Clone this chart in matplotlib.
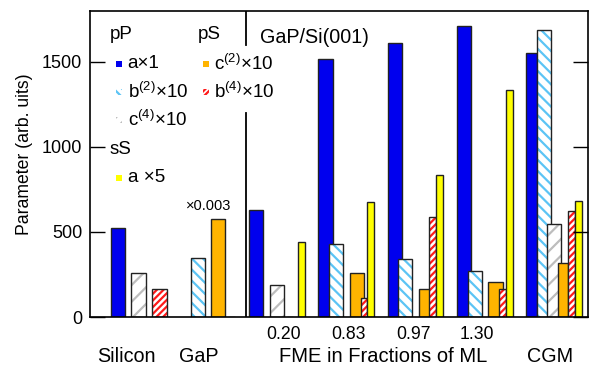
import numpy as np
import matplotlib
matplotlib.use("Agg")
import matplotlib.pyplot as plt
from matplotlib.patches import Rectangle

plt.rcParams['font.family'] = ['Liberation Sans', 'DejaVu Sans']
plt.rcParams['mathtext.default'] = 'regular'
plt.rcParams['hatch.linewidth'] = 1.6

# data (arb. units), one value per group, nan = no bar
groups = ['Silicon', 'GaP', '0.20', '0.83', '0.97', '1.30', 'CGM']
fme_labels = ['0.20', '0.83', '0.97', '1.30']
a_pP = [522, np.nan, 629, 1518, 1612, 1708, 1551]
b2_pP = [np.nan, 349, np.nan, 428, 339, 269, 1684]
c4_pP = [259, np.nan, 188, np.nan, np.nan, np.nan, 549]
c2_pS = [np.nan, 576, np.nan, 259, 167, 208, 319]
b4_pS = [163, 0, 0, 110, 588, 163, 622]
a_sS = [np.nan, np.nan, 439, 675, 835, 1333, 680]

# layout: bar centres / widths in axis units (pixels from left axis)
x_a = [28, 0, 166, 235.5, 304.7, 374.2, 441.3]
w_a = [14.3, 14.3, 14.3, 14.3, 14.3, 14.3, 10.7]
x_b2 = [0, 107.7, 0, 246.3, 315.3, 384.7, 453.8]
w_b2 = [14.3] * 7
x_c4 = [48.5, 0, 187.2, 0, 0, 0, 464.2]
w_c4 = [14.3, 14.3, 14.3, 14.3, 14.3, 14.3, 13.7]
x_c2 = [0, 128.2, 0, 267, 336.3, 405.5, 473]
w_c2 = [14.3, 14.3, 14.3, 14.3, 14.3, 14.3, 10.7]
x_b4 = [69.5, 142, 200, 274, 342.5, 412.2, 481.7]
w_b4 = [14.4, 6.7, 6.7, 6.7, 7, 7, 6.7]
x_aS = [0, 0, 211.7, 280.8, 349.7, 419.2, 488.3]
w_aS = [6.7, 6.7, 6.7, 7, 7.3, 7, 6.7]

edge = '#222222'
blue = '#0000ee'
lblue = '#5cc4f5'
gray = '#bdbdbd'
orange = '#ffb400'
red = '#ff1a1a'
yellow = '#ffff00'

fig = plt.figure(figsize=(5.89, 3.68), dpi=100)
ax = fig.add_axes([90 / 589, 51 / 368, 498 / 589, 306.3 / 368])
ax.set_xlim(0, 498)
ax.set_ylim(0, 1800)


def solid(x, w, v, color):
    for xi, wi, vi in zip(x, w, v):
        if np.isnan(vi):
            continue
        ax.bar(xi, vi, width=wi, color=color, edgecolor=edge, linewidth=1.0)


def hatched(x, w, v, color, hatch):
    for xi, wi, vi in zip(x, w, v):
        if np.isnan(vi):
            continue
        ax.bar(xi, vi, width=wi, color='white', edgecolor=color, hatch=hatch, linewidth=0)
        ax.bar(xi, vi, width=wi, color='none', edgecolor=edge, linewidth=1.0)


solid(x_a, w_a, a_pP, blue)
hatched(x_b2, w_b2, b2_pP, lblue, '\\\\\\')
hatched(x_c4, w_c4, c4_pP, gray, '//')
solid(x_c2, w_c2, c2_pS, orange)
hatched(x_b4, w_b4, b4_pS, red, '/////')
solid(x_aS, w_aS, a_sS, yellow)

# separator between reference samples and FME samples
ax.plot([155.7, 155.7], [1600, 1800], color='black', lw=1.3)
ax.plot([155.7, 155.7], [0, 1200], color='black', lw=1.3)

ax.set_yticks([0, 500, 1000, 1500])
ax.set_xticks([])
ax.tick_params(axis='y', direction='in', length=11, width=1, right=True, labelsize=13, pad=5.5)
for s in ax.spines.values():
    s.set_linewidth(1.2)
ax.set_ylabel('Parameter (arb. uits)', fontsize=12.7)
ax.yaxis.set_label_coords(-0.115, 0.532)

# x labels
for lab, xp in zip(fme_labels, [193.3, 258.3, 323.3, 387.3]):
    ax.text(xp, -100, lab, ha='center', va='center', fontsize=12.7, clip_on=False)
ax.text(36.7, -235, 'Silicon', ha='center', va='center', fontsize=14.2, clip_on=False)
ax.text(109, -235, 'GaP', ha='center', va='center', fontsize=14.2, clip_on=False)
ax.text(293.3, -235, 'FME in Fractions of ML', ha='center', va='center', fontsize=14.5, clip_on=False)
ax.text(460, -235, 'CGM', ha='center', va='center', fontsize=14.2, clip_on=False)

ax.text(170, 1641, 'GaP/Si(001)', ha='left', va='center', fontsize=14.2)
ax.text(119, 652, '×0.003', ha='center', va='center', fontsize=10.5)

# hand-made legend
ax.text(20, 1659, 'pP', ha='left', va='center', fontsize=13.5)
ax.text(107.3, 1659, 'pS', ha='left', va='center', fontsize=13.5)
ax.text(20, 982, 'sS', ha='left', va='center', fontsize=13.5)

legend_items = [
    (29, 1488, blue, None, 'a×1'),
    (29, 1324, lblue, '\\\\\\\\', 'b$^{(2)}$×10'),
    (29, 1159, gray, '///', 'c$^{(4)}$×10'),
    (29, 818, yellow, None, 'a ×5'),
    (116, 1488, orange, None, 'c$^{(2)}$×10'),
    (116, 1324, red, '//////', 'b$^{(4)}$×10'),
]
for lx, ly, col, h, lab in legend_items:
    if h is None:
        ax.add_patch(Rectangle((lx - 3, ly - 18), 6, 36, facecolor=col, edgecolor='none'))
    else:
        ax.add_patch(Rectangle((lx - 3, ly - 18), 6, 36, facecolor='white', edgecolor=col,
                               hatch=h, linewidth=0))
    ax.text(lx + 8.5, ly, lab, ha='left', va='center', fontsize=13.5)

fig.savefig('out.png', dpi=100)
